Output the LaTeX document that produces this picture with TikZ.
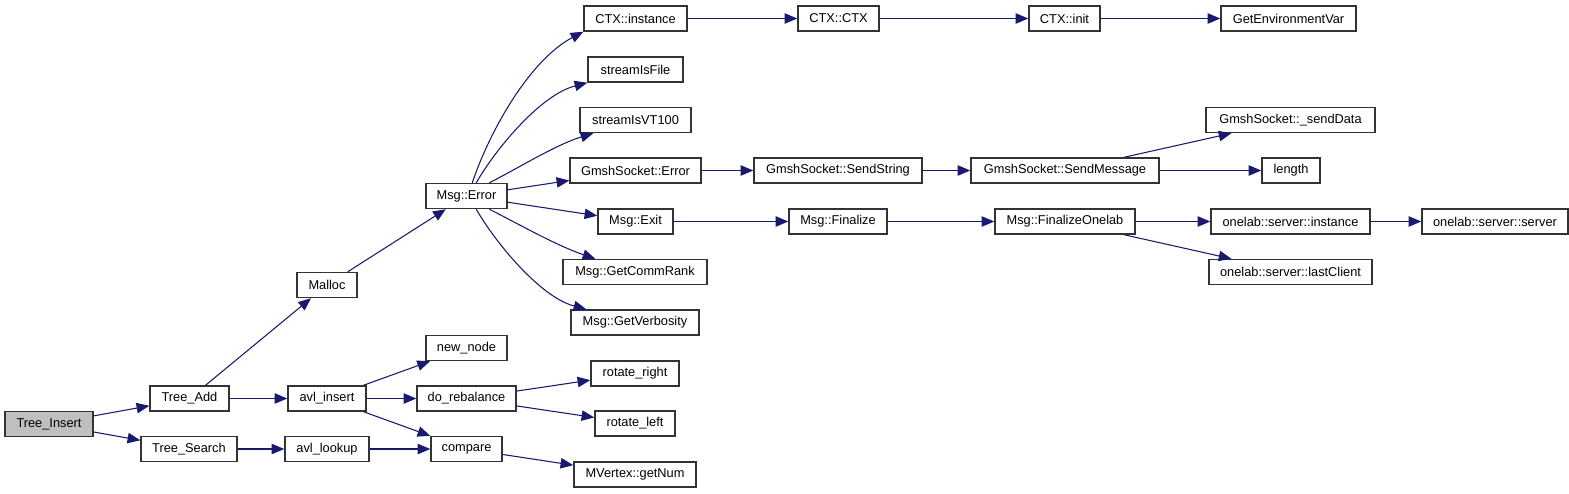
\documentclass[tikz,border=0pt]{standalone}
\usepackage{fontspec}
\setmainfont{Liberation Sans}
\usetikzlibrary{arrows.meta,calc}
\definecolor{boxc}{HTML}{333333}
\definecolor{edgec}{HTML}{191970}
\definecolor{rootc}{HTML}{BFBFBF}
\tikzset{
  box/.style={draw=boxc, fill=white, line width=1.1pt, minimum height=25*0.75pt, inner sep=0pt,
              font=\fontsize{9.6}{11}\selectfont},
  bw/.style={minimum width=#1*0.75pt},
  conn/.style={draw=edgec, line width=0.8pt, -{Triangle[length=9.5pt,width=7.8pt]}}
}
\begin{document}
\begin{tikzpicture}[x=0.75pt,y=-0.75pt]
\useasboundingbox (0,0) rectangle (1569,493);
% column 0-2
\node[box,bw=88,fill=rootc] (ti) at (49,424) {Tree\_Insert};
\node[box,bw=79] (ta) at (189.5,398.5) {Tree\_Add};
\node[box,bw=96] (ts) at (189,449) {Tree\_Search};
\node[box,bw=60] (ml) at (327,285) {Malloc};
\node[box,bw=78] (ai) at (327,398.5) {avl\_insert};
\node[box,bw=84] (al) at (327,449) {avl\_lookup};
\node[box,bw=81] (me) at (466.5,196) {Msg::Error};
\node[box,bw=81] (nn) at (466.5,348) {new\_node};
\node[box,bw=99] (dr) at (466.5,398.5) {do\_rebalance};
\node[box,bw=71] (cp) at (466.5,449) {compare};
% column 4
\node[box,bw=103] (ci) at (635.5,18.5) {CTX::instance};
\node[box,bw=95] (sf) at (635.5,69.5) {streamIsFile};
\node[box,bw=111] (sv) at (635.5,120) {streamIsVT100};
\node[box,bw=131] (ge) at (635.5,170.5) {GmshSocket::Error};
\node[box,bw=75] (mx) at (635.5,221.5) {Msg::Exit};
\node[box,bw=144] (cr) at (635,272) {Msg::GetCommRank};
\node[box,bw=128] (gv) at (635,322.5) {Msg::GetVerbosity};
\node[box,bw=88] (rr) at (635,373.5) {rotate\_right};
\node[box,bw=80] (rl) at (635,423.5) {rotate\_left};
\node[box,bw=122] (mv) at (635,474.5) {MVertex::getNum};
% column 5
\node[box,bw=81] (cc) at (838.5,18.5) {CTX::CTX};
\node[box,bw=168] (ss) at (838,170.5) {GmshSocket::SendString};
\node[box,bw=98] (mf) at (838,221.5) {Msg::Finalize};
% column 6
\node[box,bw=71] (cn) at (1064.5,18.5) {CTX::init};
\node[box,bw=188] (sm) at (1065,170.5) {GmshSocket::SendMessage};
\node[box,bw=140] (fo) at (1065,221.5) {Msg::FinalizeOnelab};
% column 7
\node[box,bw=135] (ev) at (1288.5,18.5) {GetEnvironmentVar};
\node[box,bw=169] (sd) at (1290.5,120) {GmshSocket::\_sendData};
\node[box,bw=58] (ln) at (1291,170.5) {length};
\node[box,bw=159] (oi) at (1290.5,221.5) {onelab::server::instance};
\node[box,bw=163] (lc) at (1290.5,272) {onelab::server::lastClient};
% column 8
\node[box,bw=146] (os) at (1495,221.5) {onelab::server::server};
% edges
\draw[conn] (ti) -- (ta);
\draw[conn] (ti) -- (ts);
\draw[conn] (ta) -- (ml);
\draw[conn] (ta) -- (ai);
\draw[conn] (ts) -- (al);
\draw[conn] (ml) -- (me);
\draw[conn] (ai) -- (nn);
\draw[conn] (ai) -- (dr);
\draw[conn] (ai) -- (cp);
\draw[conn] (al) -- (cp);
\draw[conn] (dr) -- (rr);
\draw[conn] (dr) -- (rl);
\draw[conn] (cp) -- (mv);
\draw[conn] ($(me.north west)+(47,0)$) .. controls (490,130) and (530,60) .. (ci.south west);
\draw[conn] ($(me.north west)+(51,0)$) .. controls (495,150) and (540,95) .. (sf.south west);
\draw[conn] ($(me.north west)+(64,0)$) .. controls (515,170) and (555,145) .. ($(sv.south west)+(14,0)$);
\draw[conn] (me) -- (ge);
\draw[conn] (me) -- (mx);
\draw[conn] ($(me.south west)+(64,0)$) .. controls (515,222) and (555,245) .. ($(cr.north west)+(33,0)$);
\draw[conn] ($(me.south west)+(51,0)$) .. controls (495,242) and (540,297) .. ($(gv.north west)+(16,0)$);
\draw[conn] (ci) -- (cc);
\draw[conn] (cc) -- (cn);
\draw[conn] (cn) -- (ev);
\draw[conn] (ge) -- (ss);
\draw[conn] (ss) -- (sm);
\draw[conn] (sm) -- (sd);
\draw[conn] (sm) -- (ln);
\draw[conn] (mx) -- (mf);
\draw[conn] (mf) -- (fo);
\draw[conn] (fo) -- (oi);
\draw[conn] (fo) -- (lc);
\draw[conn] (oi) -- (os);
\end{tikzpicture}
\end{document}
